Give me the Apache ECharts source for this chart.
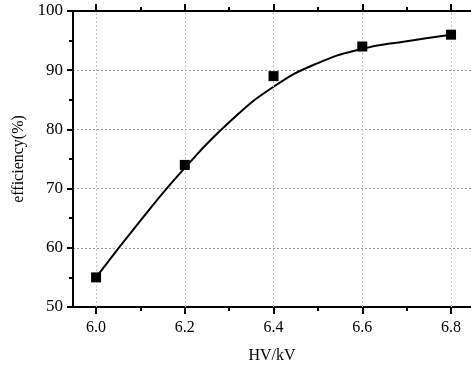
<!DOCTYPE html>
<html>
<head>
    <meta charset="UTF-8">
    <title>efficiency</title>
    <style>
        body,
        html {
            width: 100%;
            height: 100%;
            margin: 0;
            padding: 0;
            background: #fff;
        }
        #myChart {
            width: 471px;
            height: 369px;
        }
    </style>
    <script src="https://cdn.jsdelivr.net/npm/echarts@6/dist/echarts.min.js"></script>
</head>
<body>
    <div id="myChart"></div>
    <script>
        // 数据
        let hv = [6.0, 6.2, 6.4, 6.6, 6.8];
        let efficiency = [55, 74, 89, 94, 96];

        // 拟合曲线
        let fitX = [6.0, 6.1, 6.2, 6.3, 6.4, 6.5, 6.6, 6.7, 6.8];
        let fitY = [55, 64.6, 73.5, 81.2, 87.2, 91.2, 93.6, 94.9, 96];

        let xMajor = [6.0, 6.2, 6.4, 6.6, 6.8];
        let xMinor = [6.1, 6.3, 6.5, 6.7];

        let font = "Liberation Serif";

        let myEcharts = echarts.init(document.querySelector('#myChart'));

        let baseX = {
            type: 'value',
            min: 5.948,
            max: 6.845
        };

        let option = {
            animation: false,
            backgroundColor: '#fff',
            grid: { left: 73, top: 11, width: 399, height: 298 },
            xAxis: [
                Object.assign({}, baseX, {
                    position: 'bottom',
                    name: 'HV/kV',
                    nameLocation: 'middle',
                    nameGap: 41,
                    nameTextStyle: { fontFamily: font, fontSize: 16, color: '#000' },
                    axisLine: { lineStyle: { color: '#000', width: 2 } },
                    axisTick: { customValues: xMajor, length: 7, lineStyle: { color: '#000', width: 2 } },
                    axisLabel: {
                        customValues: xMajor, margin: 13,
                        fontFamily: font, fontSize: 16, color: '#000',
                        formatter: v => v.toFixed(1)
                    },
                    splitLine: { show: false }
                }),
                Object.assign({}, baseX, {
                    position: 'bottom',
                    axisLine: { show: false },
                    axisTick: { customValues: xMinor, length: 4, lineStyle: { color: '#000', width: 2 } },
                    axisLabel: { show: false },
                    splitLine: { show: false }
                }),
                Object.assign({}, baseX, {
                    position: 'top',
                    axisLine: { lineStyle: { color: '#000', width: 2 } },
                    axisTick: { customValues: xMajor, length: 7, lineStyle: { color: '#000', width: 2 } },
                    axisLabel: { show: false },
                    splitLine: { show: false }
                }),
                Object.assign({}, baseX, {
                    position: 'top',
                    axisLine: { show: false },
                    axisTick: { customValues: xMinor, length: 4, lineStyle: { color: '#000', width: 2 } },
                    axisLabel: { show: false },
                    splitLine: { show: false }
                })
            ],
            yAxis: {
                type: 'value',
                min: 50,
                max: 100,
                interval: 10,
                name: 'efficiency(%)',
                nameLocation: 'middle',
                nameGap: 46,
                nameTextStyle: { fontFamily: font, fontSize: 16, color: '#000' },
                axisLine: { show: true, lineStyle: { color: '#000', width: 2 } },
                axisTick: { show: true, length: 6, lineStyle: { color: '#000', width: 2 } },
                minorTick: { show: true, splitNumber: 2, length: 4, lineStyle: { color: '#000', width: 2 } },
                axisLabel: { margin: 10, fontFamily: font, fontSize: 17, color: '#000' },
                splitLine: { show: true, lineStyle: { color: '#999', type: [2, 2], width: 1 } }
            },
            series: [
                {
                    // 竖向网格线
                    type: 'line',
                    data: [],
                    z: 1,
                    markLine: {
                        silent: true,
                        symbol: 'none',
                        label: { show: false },
                        lineStyle: { color: '#c4c4c4', type: [2, 2], width: 1 },
                        data: xMajor.map(v => ({ xAxis: v }))
                    }
                },
                {
                    type: 'line',
                    data: fitX.map((x, i) => [x, fitY[i]]),
                    smooth: 0.5,
                    showSymbol: false,
                    lineStyle: { color: '#000', width: 2 },
                    z: 3
                },
                {
                    type: 'scatter',
                    data: hv.map((x, i) => [x, efficiency[i]]),
                    symbol: 'rect',
                    symbolSize: 10,
                    itemStyle: { color: '#000', opacity: 1 },
                    z: 5
                }
            ]
        };
        myEcharts.setOption(option, true);
    </script>
</body>
</html>
